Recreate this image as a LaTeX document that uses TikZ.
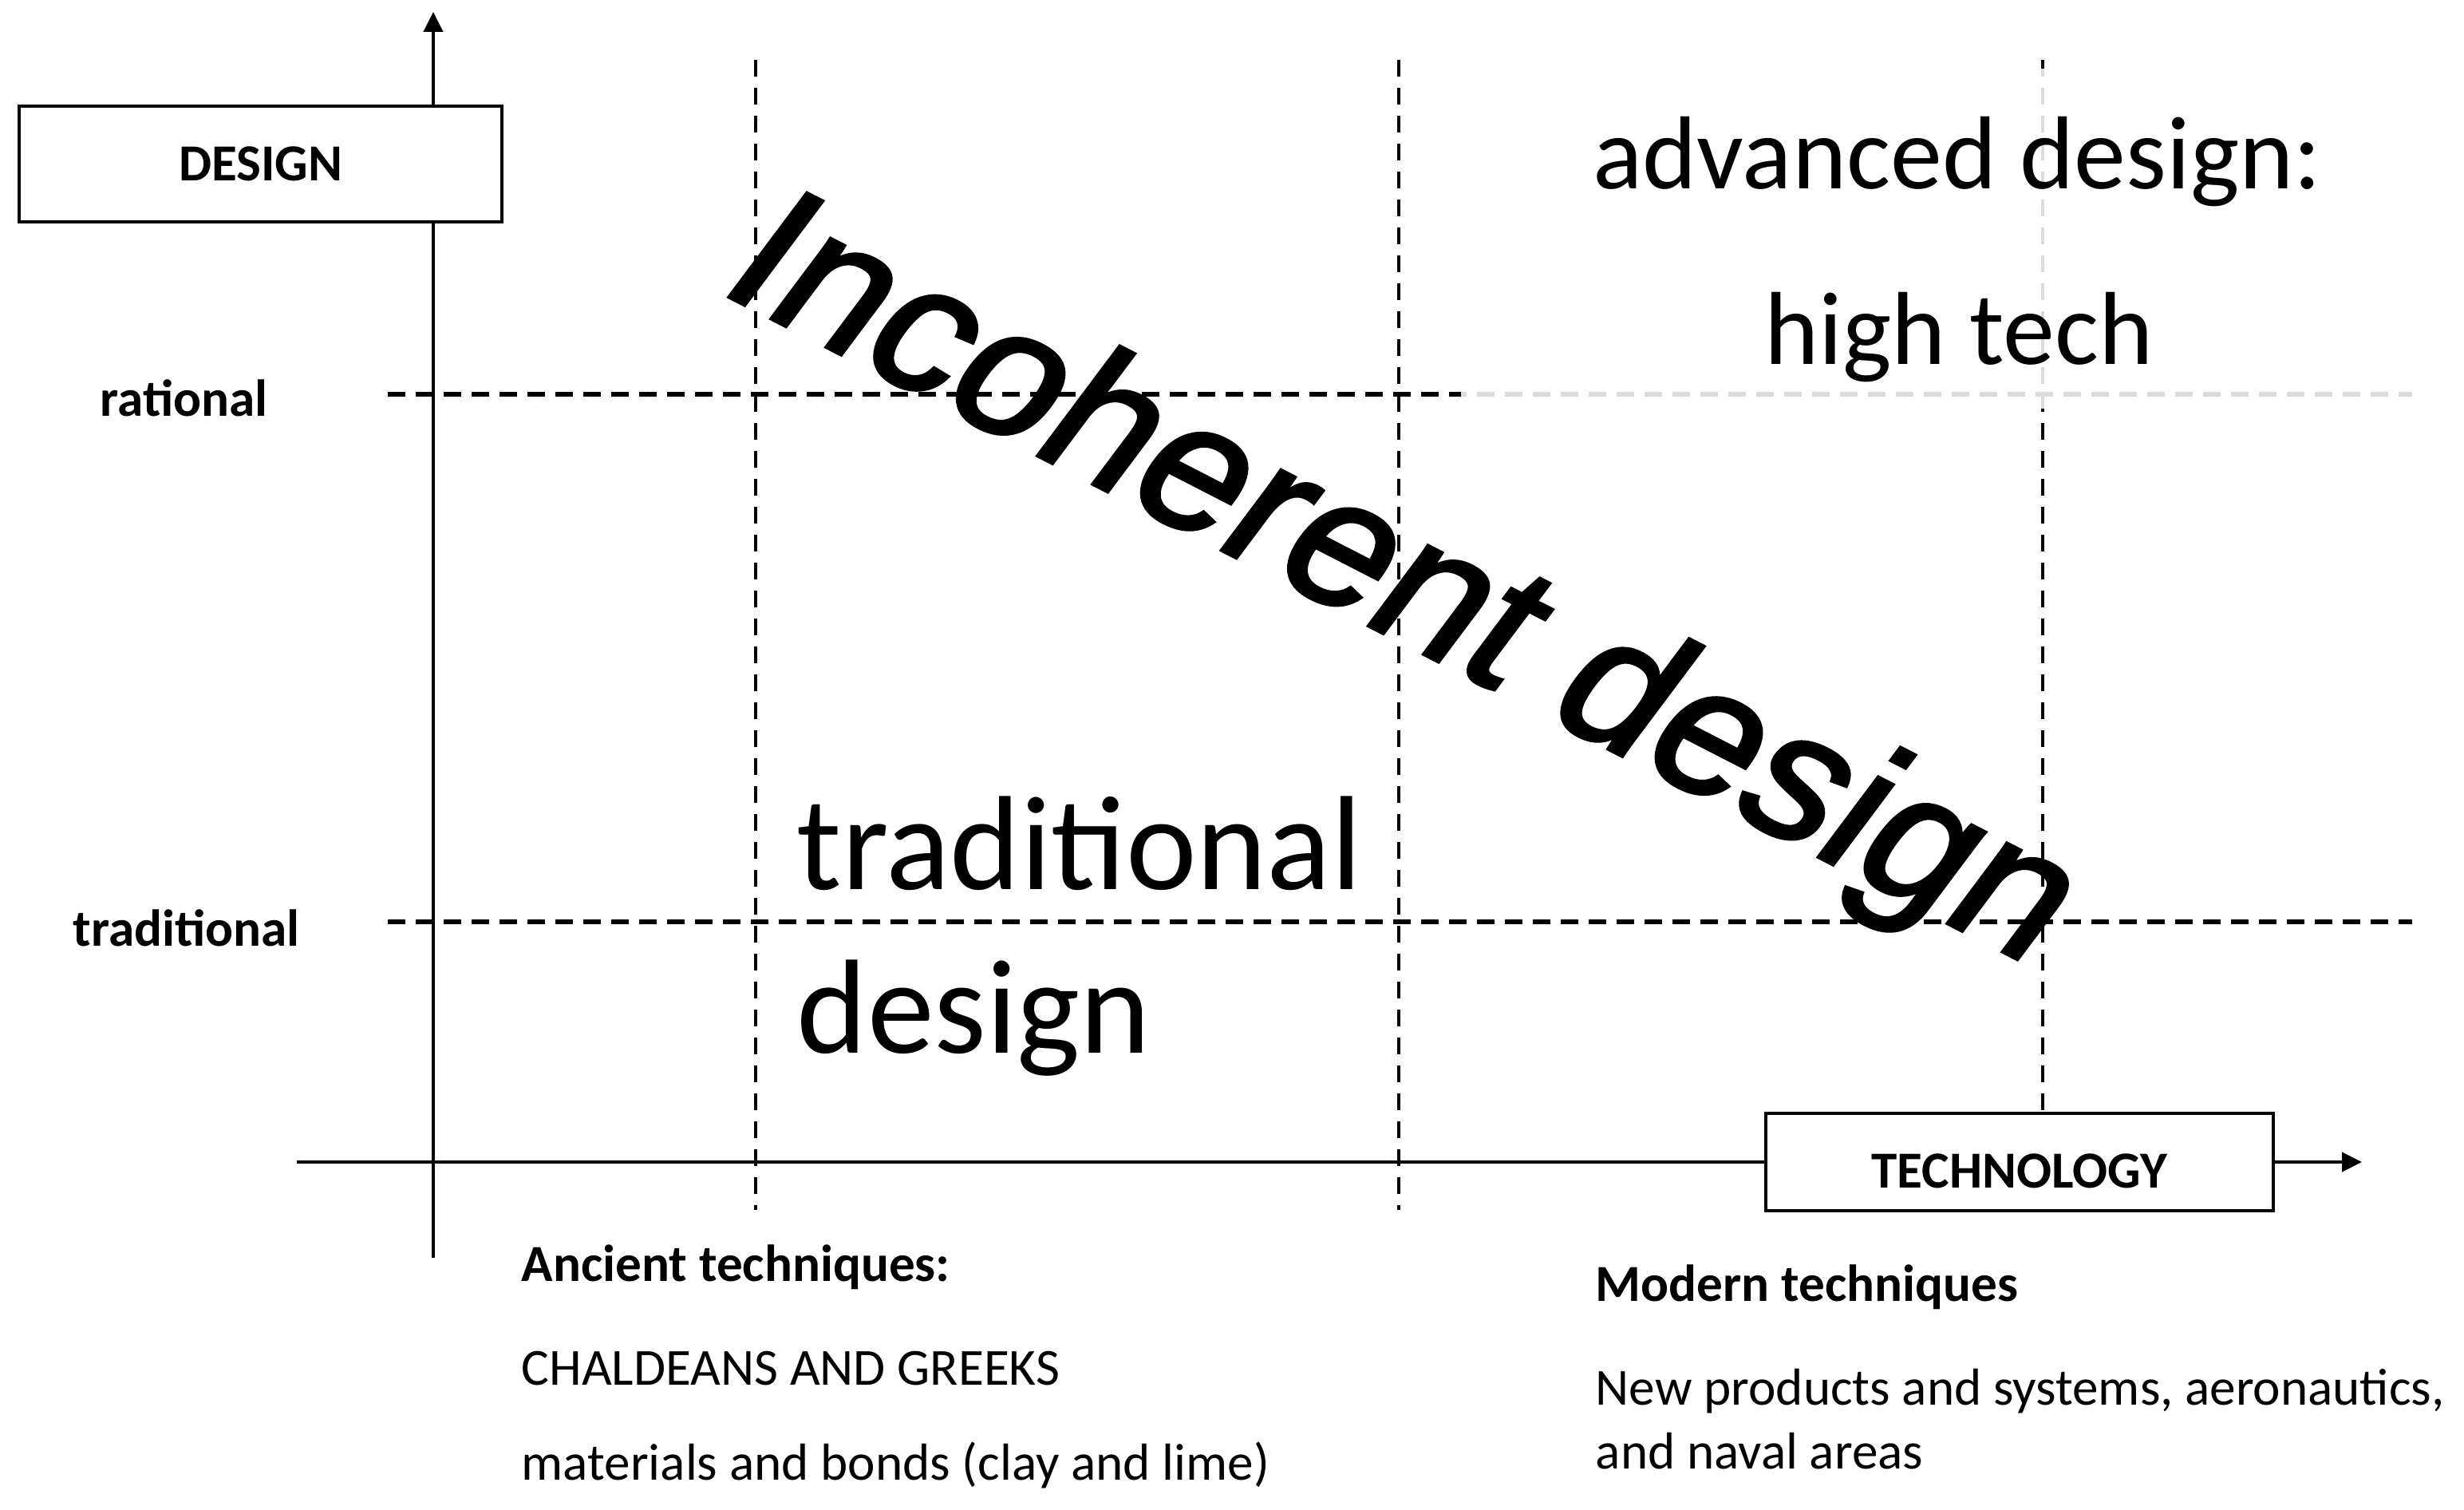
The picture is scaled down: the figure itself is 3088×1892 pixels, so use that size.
\documentclass[tikz,border=0pt]{standalone}
\usepackage{fontspec}
\setmainfont{Carlito}
\newfontfamily\arialfont[BoldFont={Liberation Sans}, BoldFeatures={FakeBold=2}]{Liberation Sans}
\usetikzlibrary{arrows.meta}
\tikzset{
  griddash/.style={line width=1pt, dash pattern=on 5.25pt off 3.5pt},
  hgriddash/.style={line width=1.3pt, dash pattern=on 5.5pt off 3.25pt},
  axisline/.style={line width=1.1pt, -{Triangle[length=6.25pt,width=6pt]}},
  axisbox/.style={draw, line width=1pt, fill=white, inner sep=0pt,
    font=\fontsize{16.3pt}{19pt}\selectfont\bfseries},
  lbl/.style={inner sep=0pt, anchor=base west, font=\fontsize{16.3pt}{19pt}\selectfont},
  lblb/.style={lbl, font=\fontsize{16.3pt}{19pt}\selectfont\bfseries},
  bigtxt/.style={inner sep=0pt, anchor=base, font=\fontsize{32.5pt}{36pt}\selectfont},
  tradtxt/.style={inner sep=0pt, anchor=base west, font=\fontsize{42pt}{48pt}\selectfont},
}
\begin{document}
\begin{tikzpicture}[x=0.25pt,y=-0.25pt]
\useasboundingbox (0,0) rectangle (3088,1892);
% grid coordinates
\coordinate (v1t) at (947,75);   \coordinate (v1b) at (947,1516);
\coordinate (v2t) at (1753,75);  \coordinate (v2b) at (1753,1516);
\coordinate (v3t) at (2560,75);  \coordinate (v3b) at (2560,1395);
\coordinate (hrl) at (486,494);  \coordinate (hrr) at (3023,494);
\coordinate (htl) at (486,1155); \coordinate (htr) at (3023,1155);
\draw[griddash] (v1t) -- (v1b);
\draw[griddash] (v2t) -- (v2b);
\draw[griddash] (v3t) -- (v3b);
\draw[hgriddash] (hrl) -- (hrr);
\draw[hgriddash] (htl) -- (htr);
% light veil behind the advanced design text
\fill[white, fill opacity=0.86] (1831,86) rectangle (3060,512);
% axes
\coordinate (ybot) at (543,1576); \coordinate (ytop) at (543,15);
\coordinate (xl) at (372,1456);   \coordinate (xr) at (2960,1456);
\draw[axisline] (ybot) -- (ytop);
\draw[axisline] (xl) -- (xr);
% boxes
\node[axisbox, minimum width=151.25pt, minimum height=36.25pt] (design) at (326.5,205.5) {DESIGN};
\node[axisbox, minimum width=159pt, minimum height=30.5pt, text height=16.3pt, text depth=0pt] (tech) at (2531,1456) {TECHNOLOGY};
% axis labels
\node[lblb] (rat) at (125,522) {rational};
\node[lblb] (trad) at (91,1186) {traditional};
% region texts
\node[bigtxt] (adv) at (2453,237) {advanced design:};
\node[bigtxt] (hitech) at (2455,457) {high tech};
\node[tradtxt] (tdes1) at (998,1115) {traditional};
\node[tradtxt] (tdes2) at (998,1320) {design};
\node[inner sep=0pt, anchor=base west, rotate=-27.2, xslant=0.17,
      font=\arialfont\bfseries\fontsize{58.25pt}{60pt}\selectfont] (incoh) at (894,362) {Incoherent design};
% bottom texts
\node[lblb] (anc) at (653,1606) {Ancient techniques:};
\node[lbl] (chal) at (653,1735) {CHALDEANS AND GREEKS};
\node[lbl] (mat) at (653,1854) {materials and bonds (clay and lime)};
\node[lblb] (mod) at (1999,1630) {Modern techniques};
\node[lbl] (newp) at (1999,1760) {New products and systems, aeronautics,};
\node[lbl] (nav) at (1999,1840) {and naval areas};
\end{tikzpicture}
\end{document}
